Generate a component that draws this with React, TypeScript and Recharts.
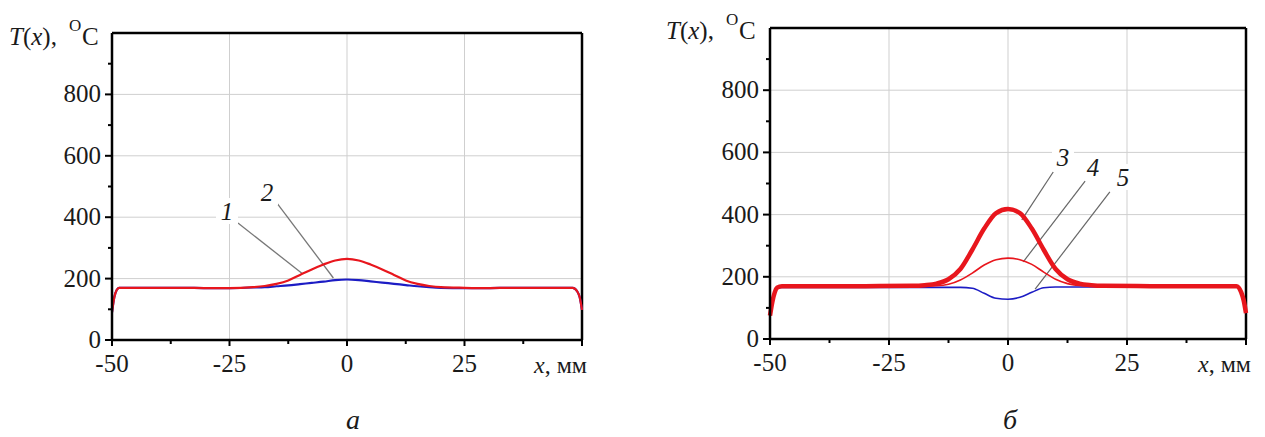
import React from 'react';
import { LineChart, Line, XAxis, YAxis, ReferenceLine } from 'recharts';

// ---- Chart (а) ----
const xA = [-50, -49.5, -49, -48.5, -45, -40, -35, -30, -25, -20, -17.5, -15, -12.5, -10, -7.5, -5, -2.5, 0, 2.5, 5, 7.5, 10, 12.5, 15, 17.5, 20, 25, 30, 35, 40, 45, 48, 49, 49.5, 50];
const curve1 = [90, 140, 163, 170, 170, 170, 170, 169, 169, 171, 172, 175, 178, 182, 186, 190, 195, 197, 195, 191, 187, 183, 179, 175, 172, 170, 169, 169, 170, 170, 170, 170, 158, 140, 98];
const curve2 = [90, 140, 163, 170, 170, 170, 170, 169, 169, 172, 176, 183, 194, 212, 230, 246, 259, 264, 259, 246, 230, 212, 194, 183, 176, 172, 170, 169, 170, 170, 170, 170, 158, 140, 98];

// ---- Chart (б) ----
const xB = [-50, -49.5, -49, -48.5, -47.5, -45, -40, -30, -20, -17.5, -15, -12.5, -10, -7.5, -5, -2.5, 0, 2.5, 5, 7.5, 10, 12.5, 15, 17.5, 20, 30, 40, 45, 48, 49, 49.5, 50];
const curve3 = [75, 120, 150, 165, 170, 170, 170, 170, 171, 173, 178, 192, 225, 287, 355, 405, 418, 405, 355, 287, 225, 192, 178, 173, 171, 170, 170, 170, 170, 150, 125, 83];
const curve4 = [75, 120, 150, 165, 170, 170, 170, 170, 170, 170, 171, 176, 190, 212, 238, 255, 260, 255, 240, 215, 192, 178, 172, 170, 170, 170, 170, 170, 170, 150, 125, 83];
const curve5 = [75, 120, 150, 162, 166, 166, 166, 166, 166, 166, 166, 166, 166, 163, 147, 131, 128, 134, 150, 165, 167, 167, 167, 167, 167, 167, 167, 167, 167, 150, 125, 83];

const xTicks = [-50, -37.5, -25, -12.5, 0, 12.5, 25, 37.5, 50];
const xLabelled = [-50, -25, 0, 25];
const yTicks = [0, 100, 200, 300, 400, 500, 600, 700, 800, 900];
const yLabelled = [0, 200, 400, 600, 800];
const gridX = [-25, 0, 25];
const gridY = [200, 400, 600, 800];

const dataA = xA.map((x, i) => ({ x, c1: curve1[i], c2: curve2[i] }));
const dataB = xB.map((x, i) => ({ x, c3: curve3[i], c4: curve4[i], c5: curve5[i] }));

const FONT = '"Liberation Serif", "Times New Roman", serif';
const INK = '#1a1a1a';

const XTick = (props: any) => {
  const { x, y, payload } = props;
  const v = payload.value;
  const major = v % 25 === 0;
  return (
    <g>
      <line x1={x} y1={y} x2={x} y2={y + (major ? 6 : 4)} stroke="#000" strokeWidth={2} />
      {xLabelled.includes(v) && (
        <text x={x} y={y + 32} textAnchor="middle" fontFamily={FONT} fontSize={25} fill={INK}>
          {v}
        </text>
      )}
      {v === 50 && (
        <text x={x - 48} y={y + 33} fontFamily={FONT} fontSize={24} fill={INK}>
          <tspan fontStyle="italic">x</tspan>, мм
        </text>
      )}
    </g>
  );
};

const YTick = (props: any) => {
  const { x, y, payload } = props;
  const v = payload.value;
  const major = v % 200 === 0;
  return (
    <g>
      <line x1={x} y1={y} x2={x - (major ? 7 : 4)} y2={y} stroke="#000" strokeWidth={2} />
      {yLabelled.includes(v) && (
        <text x={x - 11} y={y + 8} textAnchor="end" fontFamily={FONT} fontSize={25} fill={INK}>
          {v}
        </text>
      )}
    </g>
  );
};

const axisCommon = {
  tickLine: false,
  tickSize: 0,
  tickMargin: 0,
  axisLine: { stroke: '#000', strokeWidth: 2.5 },
  interval: 0 as const,
};

export default function App() {
  return (
    <div style={{ position: 'absolute', left: 0, top: 0, width: 1265, height: 437, background: '#fff', overflow: 'hidden' }}>
      <div style={{ position: 'absolute', left: 0, top: 0 }}>
        <LineChart width={600} height={380} data={dataA} margin={{ top: 33, right: 18, bottom: 10, left: 52 }}>
          <XAxis dataKey="x" type="number" domain={[-50, 50]} ticks={xTicks} tick={XTick} height={30} {...axisCommon} />
          <YAxis type="number" domain={[0, 1000]} ticks={yTicks} tick={YTick} width={60} {...axisCommon} />
          {gridX.map((v) => (
            <ReferenceLine key={'gx' + v} x={v} stroke="#cfcfcf" strokeWidth={1} />
          ))}
          {gridY.map((v) => (
            <ReferenceLine key={'gy' + v} y={v} stroke="#cfcfcf" strokeWidth={1} />
          ))}
          <ReferenceLine y={1000} stroke="#000" strokeWidth={2.5} />
          <ReferenceLine x={50} stroke="#000" strokeWidth={2.5} />
          <ReferenceLine segment={[{ x: -23.2, y: 381 }, { x: -9.4, y: 215 }]} stroke="#777" strokeWidth={1.3} />
          <ReferenceLine segment={[{ x: -14.9, y: 446 }, { x: -2.9, y: 202 }]} stroke="#777" strokeWidth={1.3} />
          <Line dataKey="c1" type="monotone" stroke="#1c1cc4" strokeWidth={2.2} dot={false} isAnimationActive={false} />
          <Line dataKey="c2" type="monotone" stroke="#e8161d" strokeWidth={2.2} dot={false} isAnimationActive={false} />
        </LineChart>
      </div>
      <div style={{ position: 'absolute', left: 640, top: 0 }}>
        <LineChart width={625} height={380} data={dataB} margin={{ top: 28, right: 19, bottom: 11, left: 70 }}>
          <XAxis dataKey="x" type="number" domain={[-50, 50]} ticks={xTicks} tick={XTick} height={30} {...axisCommon} />
          <YAxis type="number" domain={[0, 1000]} ticks={yTicks} tick={YTick} width={60} {...axisCommon} />
          {gridX.map((v) => (
            <ReferenceLine key={'gx' + v} x={v} stroke="#cfcfcf" strokeWidth={1} />
          ))}
          {gridY.map((v) => (
            <ReferenceLine key={'gy' + v} y={v} stroke="#cfcfcf" strokeWidth={1} />
          ))}
          <ReferenceLine y={1000} stroke="#000" strokeWidth={2.5} />
          <ReferenceLine x={50} stroke="#000" strokeWidth={2.5} />
          <ReferenceLine segment={[{ x: 9.5, y: 537 }, { x: 2.9, y: 383 }]} stroke="#666" strokeWidth={1.2} />
          <ReferenceLine segment={[{ x: 16.2, y: 508 }, { x: 3.2, y: 248 }]} stroke="#666" strokeWidth={1.2} />
          <ReferenceLine segment={[{ x: 21.4, y: 473 }, { x: 5.7, y: 160 }]} stroke="#666" strokeWidth={1.2} />
          <Line dataKey="c5" type="monotone" stroke="#1c1cc4" strokeWidth={1.6} dot={false} isAnimationActive={false} />
          <Line dataKey="c4" type="monotone" stroke="#e8161d" strokeWidth={1.6} dot={false} isAnimationActive={false} />
          <Line dataKey="c3" type="monotone" stroke="#e8161d" strokeWidth={4.5} dot={false} isAnimationActive={false} />
        </LineChart>
      </div>
      <svg width={1265} height={437} style={{ position: 'absolute', left: 0, top: 0, pointerEvents: 'none' }}>
        <g fontFamily={FONT} fill={INK}>
          {/* axis titles */}
          <text x={9} y={45} fontSize={25}>
            <tspan fontStyle="italic">T</tspan>(<tspan fontStyle="italic">x</tspan>),
          </text>
          <text x={69} y={31} fontSize={17}>O</text>
          <text x={82} y={45} fontSize={25}>C</text>
          <text x={666} y={39} fontSize={25}>
            <tspan fontStyle="italic">T</tspan>(<tspan fontStyle="italic">x</tspan>),
          </text>
          <text x={726} y={25} fontSize={17}>O</text>
          <text x={739} y={39} fontSize={25}>C</text>
          {/* curve labels */}
          <rect x={216} y={198} width={22} height={26} fill="#fff" />
          <text x={227} y={220} fontSize={25} fontStyle="italic" textAnchor="middle">1</text>
          <rect x={256} y={179} width={22} height={26} fill="#fff" />
          <text x={267} y={201} fontSize={25} fontStyle="italic" textAnchor="middle">2</text>
          <rect x={1052} y={144} width={22} height={26} fill="#fff" />
          <text x={1063} y={166} fontSize={25} fontStyle="italic" textAnchor="middle">3</text>
          <rect x={1082} y={154} width={22} height={26} fill="#fff" />
          <text x={1093} y={176} fontSize={25} fontStyle="italic" textAnchor="middle">4</text>
          <rect x={1112} y={164} width={22} height={26} fill="#fff" />
          <text x={1123} y={186} fontSize={25} fontStyle="italic" textAnchor="middle">5</text>
          {/* panel letters */}
          <text x={353} y={429} fontSize={28} fontStyle="italic" textAnchor="middle">а</text>
          <text x={1010} y={429} fontSize={28} fontStyle="italic" textAnchor="middle">б</text>
        </g>
      </svg>
    </div>
  );
}
